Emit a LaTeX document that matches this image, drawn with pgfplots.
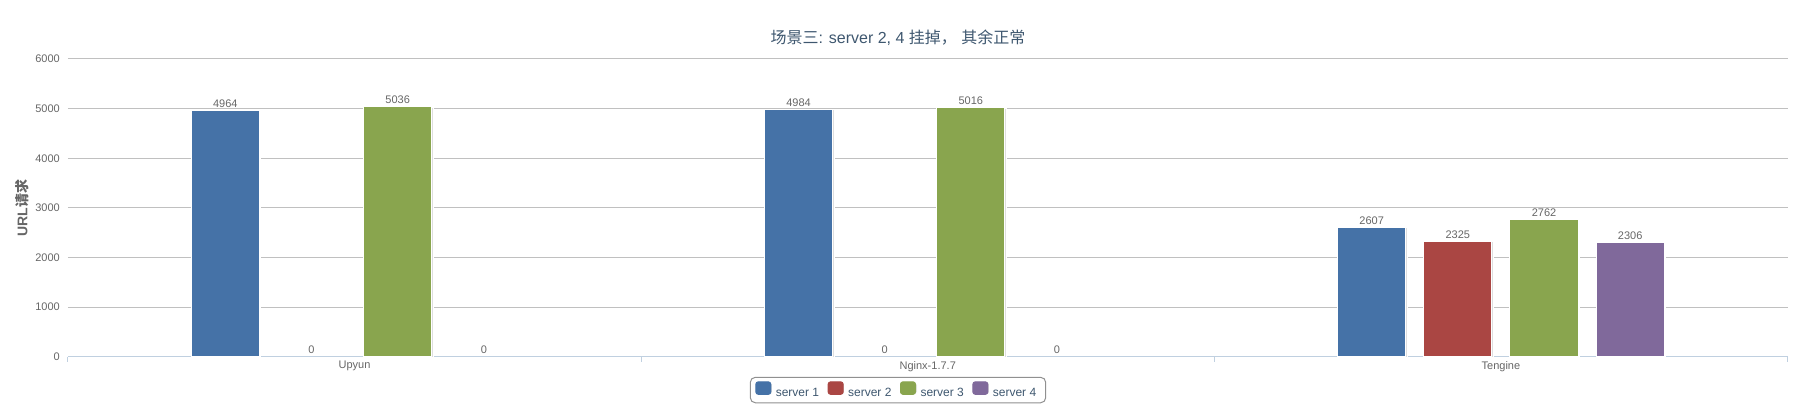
\documentclass[border=0pt]{standalone}
\usepackage{fontspec}
\setmainfont{Liberation Sans}
\newfontfamily\cjk{Noto Sans CJK SC}
\usepackage{pgfplots}
\pgfplotsset{compat=1.18}
\definecolor{sA}{HTML}{4572A7}
\definecolor{sB}{HTML}{AA4643}
\definecolor{sC}{HTML}{89A54E}
\definecolor{sD}{HTML}{80699B}
\definecolor{titlec}{HTML}{3E576F}
\definecolor{labc}{HTML}{666666}
\definecolor{gridc}{HTML}{C0C0C0}
\definecolor{axc}{HTML}{C0D0E0}
\definecolor{legc}{HTML}{909090}
\pgfplotsset{
  mybar/.style={fill=#1, draw=white, line width=1pt,
    preaction={fill=black!13, transform canvas={xshift=1.5pt,yshift=-0.5pt}},
    legend image code/.code={\fill[#1, rounded corners=2.5pt] (0pt,-1.5pt) rectangle (15pt,11pt);}},
  zerobar/.style={draw=none, fill=none, forget plot},
}
\begin{document}
\begin{tikzpicture}[x=1pt,y=1pt]
\path[use as bounding box] (0,0) rectangle (1818,406);
\node[font=\fontsize{16}{19}\selectfont, text=titlec] at (898,368) {{\cjk 场景三}: server 2, 4 {\cjk 挂掉，} {\cjk 其余正常}};
\begin{axis}[
  at={(68pt,49.3pt)}, anchor=south west,
  width=1719.5pt, height=297.7pt, scale only axis,
  xmin=-0.5, xmax=2.5, ymin=0, ymax=6000,
  ybar, bar width=0.119,
  clip=false,
  axis lines*=left,
  y axis line style={draw=none},
  x axis line style={axc, line width=1pt},
  ytick={0,1000,...,6000},
  xtick={0,1,2},
  xticklabels={Upyun,Nginx-1.7.7,Tengine},
  minor xtick={-0.5,0.5,1.5,2.5},
  major tick length=0pt,
  minor tick length=5pt,
  xtick align=outside, ytick align=inside,
  major tick style={draw=none},
  minor x tick style={axc, line width=1pt},
  ymajorgrids, grid style={gridc, line width=1pt},
  /pgf/number format/assume math mode=true,
  /pgf/number format/1000 sep={},
  tick label style={font=\fontsize{11}{13}\selectfont, text=labc},
  yticklabel style={anchor=east, inner sep=0pt, xshift=-8pt},
  xticklabel style={anchor=north, inner sep=0pt, yshift=-4.3pt},
  ylabel={URL{\cjk 请求}},
  every axis y label/.style={at={(axis description cs:-0.02675,0.5)}, rotate=90, anchor=center,
    font=\bfseries\fontsize{14}{16}\selectfont, text=labc},
  nodes near coords,
  every node near coord/.append style={font=\fontsize{11}{13}\selectfont, text=labc, anchor=south, inner sep=2.5pt},
  legend columns=4,
  legend style={at={(0.4827,-0.112)}, anchor=center, draw=legc, line width=1pt, rounded corners=5pt,
    font=\fontsize{12}{14}\selectfont, text=titlec, inner xsep=5pt, inner ysep=4pt,
    nodes={inner xsep=4.5pt, inner ysep=1pt},
    /tikz/every even column/.append style={column sep=4pt}},
]
\addplot[mybar=sA, bar shift=-0.2255] coordinates {(0,4964) (1,4984) (2,2607)};
\addplot[mybar=sB, bar shift=-0.0752] coordinates {(2,2325)};
\addplot[mybar=sC, bar shift=0.0752] coordinates {(0,5036) (1,5016) (2,2762)};
\addplot[mybar=sD, bar shift=0.2255] coordinates {(2,2306)};
\legend{server 1, server 2, server 3, server 4}
\addplot[zerobar, bar shift=-0.0752] coordinates {(0,0) (1,0)};
\addplot[zerobar, bar shift=0.2255] coordinates {(0,0) (1,0)};
\end{axis}
\end{tikzpicture}
\end{document}
